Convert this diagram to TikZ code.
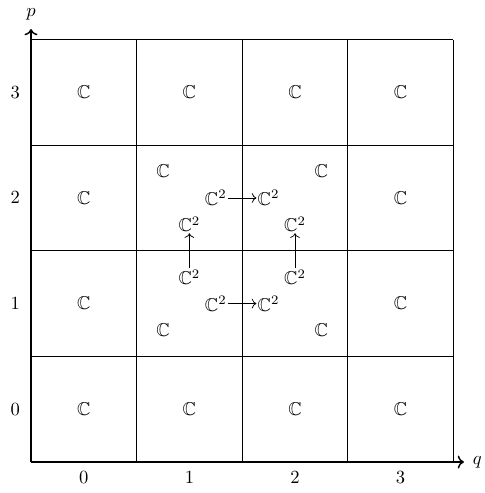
\documentclass[tikz,border=0pt]{standalone}
\usepackage{amsmath}
\usepackage{amssymb}
\usepackage{tikz}
\usetikzlibrary{arrows.meta,positioning,calc}
\tikzset{
  cell/.style={inner sep=0.5pt},
  mor/.style={->},
  axis/.style={->,line width=0.8pt},
}
\begin{document}
\begin{tikzpicture}[x=2cm,y=2cm]
  \useasboundingbox (-0.2935,-0.2935) rectangle (4.29,4.375);
  % grid of the page
  \draw[xstep=2cm,ystep=2cm] (0,0) grid (4,4);
  \coordinate (O) at (0,0);
  \coordinate (qend) at (4.1,0);
  \coordinate (pend) at (0,4.1);
  \draw[axis] (O) -- (qend) node[right=1pt]{$q$};
  \draw[axis] (O) -- (pend) node[above=1pt]{$p$};
  \foreach \i in {0,1,2,3}{
    \node (qlab\i) at (\i+0.5,-0.15) {$\i$};
    \node (plab\i) at (-0.15,\i+0.5) {$\i$};
  }
  % outer ring of cells
  \foreach \q/\p in {0/0,1/0,2/0,3/0,0/1,3/1,0/2,3/2,0/3,1/3,2/3,3/3}{
    \node[cell] (c\q\p) at (\q+0.5,\p+0.5) {$\mathbb{C}$};
  }
  % inner cells
  \node[cell] (a12) at (1.25,2.75) {$\mathbb{C}$};
  \node[cell] (a22) at (2.75,2.75) {$\mathbb{C}$};
  \node[cell] (a11) at (1.25,1.25) {$\mathbb{C}$};
  \node[cell] (a21) at (2.75,1.25) {$\mathbb{C}$};
  \node[cell] (t1) at (1.75,2.5) {$\mathbb{C}^2$};
  \node[cell] (t2) at (2.25,2.5) {$\mathbb{C}^2$};
  \node[cell] (b1) at (1.75,1.5) {$\mathbb{C}^2$};
  \node[cell] (b2) at (2.25,1.5) {$\mathbb{C}^2$};
  \node[cell] (l1) at (1.5,1.75) {$\mathbb{C}^2$};
  \node[cell] (l2) at (1.5,2.25) {$\mathbb{C}^2$};
  \node[cell] (r1) at (2.5,1.75) {$\mathbb{C}^2$};
  \node[cell] (r2) at (2.5,2.25) {$\mathbb{C}^2$};
  \draw[mor] (t1) -- (t2);
  \draw[mor] (b1) -- (b2);
  \draw[mor] (l1) -- (l2);
  \draw[mor] (r1) -- (r2);
\end{tikzpicture}
\end{document}
